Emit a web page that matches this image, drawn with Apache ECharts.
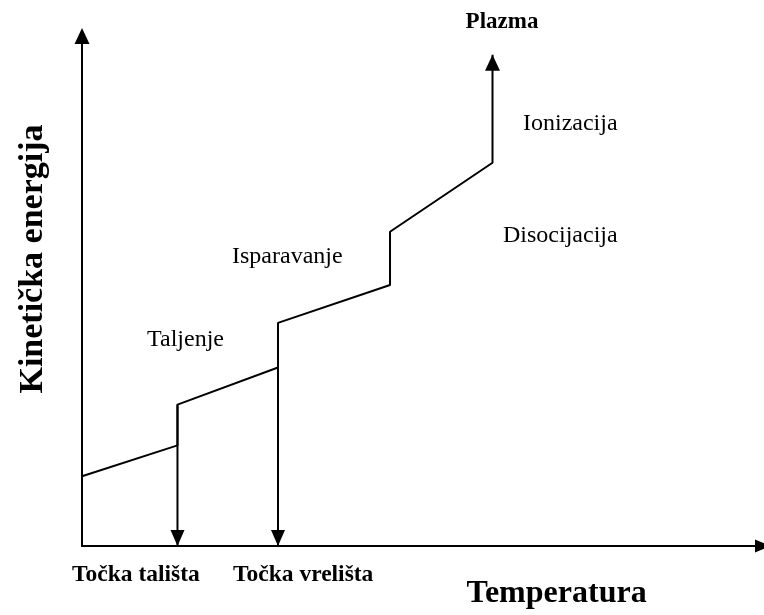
<!DOCTYPE html>
<html>
<head>
<meta charset="utf-8">
<script src="https://cdn.jsdelivr.net/npm/echarts@6/dist/echarts.min.js"></script>
<style>html,body{margin:0;padding:0;background:#fff;}#c{width:764px;height:615px;}</style>
</head>
<body>
<div id="c"></div>
<script>
// Data (arbitrary units: x = temperature 0..100, y = kinetic energy 0..100)
var curveX = [0, 14.02, 14.02, 28.78, 28.78, 45.23, 45.23, 60.28, 60.28];
var curveY = [13.67, 19.73, 27.73, 35.0, 43.75, 51.17, 61.62, 75.14, 96.3];
var meltingX = 14.02, meltingY = 27.73;
var boilingX = 28.78, boilingY = 43.75;
var xName = 'Temperatura';
var yName = 'Kinetička energija';
var phaseLabels = ['Plazma', 'Ionizacija', 'Disocijacija', 'Isparavanje', 'Taljenje'];
var pointLabels = ['Točka tališta', 'Točka vrelišta'];

var FONT = "'Liberation Serif', 'Times New Roman', serif";
var curve = curveX.map(function (x, i) { return [x, curveY[i]]; });

function txt(t, x, y, size, bold, align) {
  return {
    type: 'text', x: x, y: y, silent: true,
    style: {
      text: t, fill: '#000',
      font: (bold ? 'bold ' : '') + size + 'px ' + FONT,
      textAlign: align || 'left', align: align || 'left',
      textVerticalAlign: 'middle', verticalAlign: 'middle'
    }
  };
}

var chart = echarts.init(document.getElementById('c'), null, {renderer: 'canvas'});
chart.setOption({
  animation: false,
  backgroundColor: '#fff',
  grid: {left: 82, right: 1, top: 36, bottom: 67},
  xAxis: {
    type: 'value', min: 0, max: 100,
    axisLine: {show: true, onZero: false, symbol: ['none', 'triangle'], symbolSize: [13, 16],
      lineStyle: {color: '#000', width: 2}},
    axisTick: {show: false}, axisLabel: {show: false}, splitLine: {show: false},
    name: xName, nameLocation: 'middle', nameGap: 48,
    nameTextStyle: {color: '#000', fontFamily: FONT, fontWeight: 'bold', fontSize: 32,
      align: 'left', verticalAlign: 'middle', padding: [0, 0, 0, 44]}
  },
  yAxis: {
    type: 'value', min: 0, max: 100,
    axisLine: {show: true, onZero: false, symbol: ['none', 'triangle'], symbolSize: [15, 16],
      lineStyle: {color: '#000', width: 2}},
    axisTick: {show: false}, axisLabel: {show: false}, splitLine: {show: false},
    name: yName, nameLocation: 'middle', nameGap: 49, nameRotate: 90,
    nameTextStyle: {color: '#000', fontFamily: FONT, fontWeight: 'bold', fontSize: 34,
      align: 'center', verticalAlign: 'middle', padding: [0, 0, 0, 64]}
  },
  series: [
    {
      type: 'line', data: curve, clip: false, silent: true,
      lineStyle: {color: '#000', width: 2},
      itemStyle: {color: '#000'},
      symbol: function (v, p) { return p.dataIndex === curve.length - 1 ? 'triangle' : 'none'; },
      symbolSize: [15, 16], symbolOffset: [0, 8]
    },
    {
      type: 'line', data: [[meltingX, meltingY], [meltingX, 0]], clip: false, silent: true,
      lineStyle: {color: '#000', width: 2}, itemStyle: {color: '#000'},
      symbol: function (v, p) { return p.dataIndex === 1 ? 'triangle' : 'none'; },
      symbolSize: [14, 16], symbolRotate: 180, symbolOffset: [0, -8]
    },
    {
      type: 'line', data: [[boilingX, boilingY], [boilingX, 0]], clip: false, silent: true,
      lineStyle: {color: '#000', width: 2}, itemStyle: {color: '#000'},
      symbol: function (v, p) { return p.dataIndex === 1 ? 'triangle' : 'none'; },
      symbolSize: [14, 16], symbolRotate: 180, symbolOffset: [0, -8]
    }
  ],
  graphic: [
    txt(phaseLabels[0], 502, 22, 23, true, 'center'),
    txt(phaseLabels[1], 523, 124, 24, false),
    txt(phaseLabels[2], 503, 236, 24, false),
    txt(phaseLabels[3], 232, 257, 24, false),
    txt(phaseLabels[4], 147, 340, 24, false),
    txt(pointLabels[0], 72, 575, 23.5, true),
    txt(pointLabels[1], 233, 575, 23.5, true)
  ]
});
</script>
</body>
</html>
